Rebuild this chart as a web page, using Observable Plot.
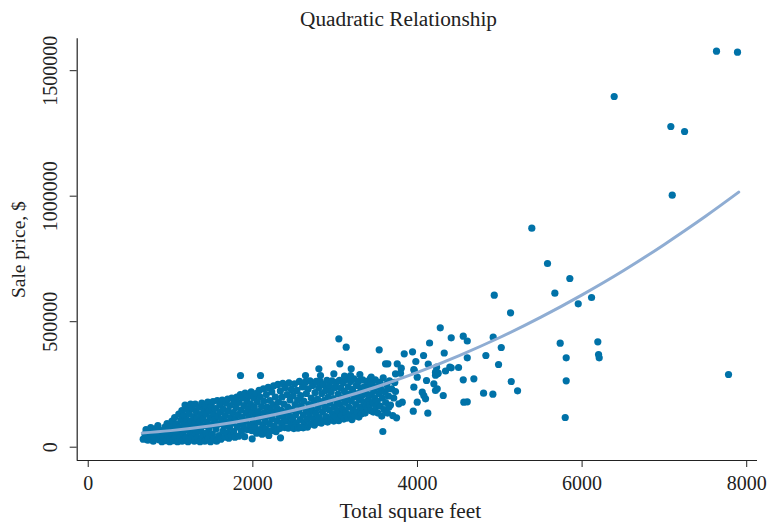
<!DOCTYPE html>
<html><head><meta charset="utf-8">
<script src="https://cdn.jsdelivr.net/npm/d3@7"></script>
<script src="https://cdn.jsdelivr.net/npm/@observablehq/plot@0.6"></script>
<style>
body{margin:0;background:#fff;}
#wrap{width:769px;height:522px;position:relative;overflow:hidden;background:#fff;}
#title{height:34px;box-sizing:border-box;padding-top:4px;padding-left:28px;text-align:center;font-family:"Liberation Serif",serif;font-size:21.3px;line-height:30px;color:#222;}
#chart svg{display:block;}
</style></head><body>
<div id="wrap"><div id="title">Quadratic Relationship</div><div id="chart"></div></div>
<script>
// Tick values
const xTicks = [0, 2000, 4000, 6000, 8000];
const yTicks = [0, 500000, 1000000, 1500000];

// Dense cloud of sales: [total square feet, sale price in $1000]
const cloudPoints = [
  [668,32],[690,52],[702,70],[724,28],[738,45],[752,62],[760,78],[790,24],[805,40],[818,58],[826,74],[846,86],[860,30],[872,48],[884,66],[895,22],[910,40],[925,58],[932,80],[948,26],[958,94],[966,46],[978,68],[990,22],[998,36],[1004,84],[1012,56],[1018,104],
  [1030,26],[1042,72],[1050,118],[1060,44],[1072,92],[1085,22],[1092,60],[1100,132],[1110,80],[1118,38],[1126,108],[1138,146],[1140,24],[1150,56],[1158,90],[1165,126],[1176,168],[1182,70],[1190,40],[1196,110],[1204,150],[1212,22],[1220,88],[1228,134],[1235,60],[1244,172],[1250,104],[1258,38],[1266,154],[1272,76],[1280,120],[1288,24],[1294,96],[1300,172],[1306,56],[1314,140],[1322,114],[1330,36],[1336,80],[1344,160],[1352,100],[1358,22],[1366,130],[1372,62],[1380,176],[1388,40],[1394,112],[1402,150],[1408,86],[1416,24],[1424,166],[1430,132],[1436,56],[1444,100],[1452,180],[1458,36],[1466,74],[1472,146],[1480,118],[1486,22],[1494,164],[1500,90],
  [1508,52],[1516,182],[1524,132],[1530,34],[1538,108],[1546,154],[1552,72],[1560,24],[1568,186],[1576,124],[1584,92],[1590,46],[1598,168],[1606,140],[1612,32],[1620,110],[1628,188],[1636,64],[1642,152],[1650,86],[1656,40],[1664,126],[1672,176],[1680,100],[1686,56],[1694,192],[1700,144],[1708,36],[1716,78],[1722,166],[1730,118],[1738,48],[1744,196],[1752,96],[1760,138],[1766,62],[1774,180],[1782,40],[1788,112],[1796,158],[1804,200],[1810,80],[1818,130],[1826,44],[1832,178],[1840,100],[1848,210],[1856,148],[1862,64],[1870,120],[1878,196],[1884,86],[1892,166],[1900,42],[1906,216],[1914,104],[1920,138],[1928,186],[1934,70],[1942,154],[1950,120],[1956,206],[1964,88],[1972,172],[1980,220],[1988,66],[1994,140],
  [2002,104],[2010,196],[2018,160],[2024,80],[2032,124],[2040,214],[2046,56],[2054,180],[2060,100],[2068,142],[2076,226],[2084,70],[2090,200],[2098,120],[2106,162],[2112,52],[2120,90],[2128,232],[2134,184],[2142,138],[2150,110],[2156,72],[2164,210],[2172,160],[2178,56],[2186,238],[2194,126],[2200,94],[2208,186],[2216,148],[2222,66],[2230,220],[2238,112],[2244,170],[2252,244],[2260,84],[2268,136],[2274,200],[2282,62],[2290,156],[2296,104],[2304,250],[2312,180],[2318,126],[2326,74],[2334,224],[2342,148],[2348,96],[2356,200],[2364,254],[2370,120],[2378,172],[2386,78],[2392,236],[2400,140],[2408,104],[2416,210],[2424,160],[2430,76],[2438,256],[2446,124],[2452,188],[2460,94],[2468,230],[2476,150],[2484,112],[2490,206],[2498,74],
  [2506,252],[2514,170],[2520,130],[2528,96],[2536,226],[2544,188],[2550,76],[2558,146],[2566,262],[2574,110],[2580,206],[2588,166],[2596,80],[2604,240],[2612,128],[2620,184],[2626,98],[2634,258],[2642,150],[2650,214],[2658,112],[2664,80],[2672,232],[2680,170],[2688,134],[2694,264],[2702,92],[2710,196],[2718,150],[2726,246],[2732,114],[2740,176],[2748,88],[2756,218],[2764,136],[2770,262],[2778,98],[2786,192],[2794,158],[2800,236],[2808,118],[2816,262],[2824,176],[2832,96],[2838,214],[2846,140],[2854,250],[2862,104],[2870,188],[2876,160],[2884,226],[2892,122],[2900,266],[2908,100],[2914,200],[2922,150],[2930,244],[2938,176],[2946,114],[2952,220],[2960,264],[2968,134],[2976,194],[2984,104],[2990,160],[2998,238],
  [3006,122],[3014,258],[3022,180],[3030,146],[3036,212],[3044,106],[3052,266],[3060,170],[3068,236],[3074,128],[3082,196],[3090,152],[3098,258],[3106,112],[3112,222],[3120,178],[3128,138],[3136,270],[3144,200],[3150,116],[3158,240],[3166,160],[3174,212],[3182,130],[3188,262],[3196,184],[3204,110],[3212,230],[3220,150],[3228,272],[3234,200],[3242,124],[3250,170],[3258,246],[3266,140],[3272,214],[3280,262],[3288,120],[3296,188],[3304,160],[3310,236],[3318,132],[3326,206],[3334,268],[3342,150],[3350,180],[3356,240],[3364,136],[3372,214],[3380,162],[3388,262],[3394,150],[3402,190],[3410,236],[3418,168],[3426,272],[3432,146],[3440,210],[3448,250],[3456,178],[3464,140],[3472,226],[3480,196],[3488,268],[3494,160],[3502,240],
  [3512,184],[3520,136],[3530,214],[3540,258],[3548,164],[3556,230],[3566,124],[3574,196],[3584,276],[3594,150],[3604,220],[3614,178],[3624,250],[3636,136],[3648,204],[3660,264],[3672,168],[3686,232],[3700,126],[3712,196],[3724,258]
];

// Scattered sales: [total square feet, sale price in $1000]
const scatterPoints = [
  [7633, 1577.7], [7888, 1573.7], [6390, 1397.2], [7078, 1277.7], [7245, 1257.7], [7095, 1004.0],
  [5389, 872.5], [5580, 731.9], [5851, 672.1], [5669, 613.5], [5953, 571.3], [6115, 596.4],
  [4933, 605.6], [5131, 535.4], [4920, 438.2], [5018, 397.2], [4831, 365.3], [4985, 329.5],
  [5139, 261.7], [5216, 224.7], [4803, 215.1], [4916, 211.2], [5734, 414.3], [5807, 356.2],
  [5807, 264.5], [5795, 118.3], [6191, 419.9], [6200, 369.3], [6208, 356.2], [7779, 289.6],
  [4277, 475.7], [4410, 435.8], [4556, 442.2], [4605, 423.1], [4147, 415.1], [3940, 380.1],
  [3839, 372.1], [4074, 365.3], [4325, 375.3], [4605, 356.2], [3980, 341.4], [4131, 330.7],
  [3956, 309.6], [4410, 316.3], [4499, 317.5], [4341, 303.6], [4219, 286.8], [4252, 294.8],
  [4556, 268.5], [4685, 272.5], [3535, 388.0], [3612, 332.3], [3754, 332.3], [3803, 314.7],
  [3961, 305.6], [4232, 318.7], [4240, 292.4], [3733, 292.4], [3997, 278.9], [3956, 239.0],
  [4058, 219.1], [4098, 192.8], [3997, 179.3], [4199, 252.6], [4240, 232.7], [4313, 206.0],
  [3733, 221.9], [3815, 179.3], [3774, 172.9], [3949, 143.4], [4126, 135.5], [3746, 117.1],
  [3579, 62.5], [4605, 180.9], [3045, 431.9], [3134, 398.4], [2640, 285.6], [2802, 312.3],
  [2984, 292.4], [3057, 332.3], [3195, 312.3], [3300, 289.6], [2612, 77.3], [3640, 332.3],
  [3794, 294.8], [3640, 232.7], [3652, 159.4], [4077, 206.0], [4110, 265.7], [4563, 179.3],
  [4393, 318.7], [4219, 298.8], [4219, 225.9], [2093, 285.6], [2822, 285.6], [3114, 282.9],
  [3187, 285.6], [3438, 278.9], [1850, 285.6], [1992, 33.5], [2194, 46.6], [2336, 37.4],
  [2579, 79.7]
];

// Quadratic fit line
const fitSqft = [656, 1000, 1500, 2000, 2500, 3000, 3500, 4000, 4500, 5000, 5500, 6000, 6500, 7000, 7500, 7903];
const fitPrice = [57000, 66000, 85000, 112000, 147000, 190000, 240000, 298000, 364000, 437000, 518000, 607000, 703000, 808000, 920000, 1016000];

const sales = [];
for (const [s, p] of cloudPoints) sales.push({sqft: s, price: p * 1000});
for (const [s, p] of scatterPoints) sales.push({sqft: s, price: p * 1000});
const fit = fitSqft.map((s, i) => ({sqft: s, price: fitPrice[i]}));

const xDomain = [-134, 8131];
const yDomain = [-53000, 1627000];
const ink = "#222";

const chart = Plot.plot({
  width: 769,
  height: 488,
  marginLeft: 76.7,
  marginRight: 12,
  marginTop: 4.3,
  marginBottom: 62,
  x: {domain: xDomain},
  y: {domain: yDomain},
  style: {fontFamily: "'Liberation Serif', serif", fontSize: "20px", color: ink, background: "#fff", overflow: "visible"},
  marks: [
    Plot.dot(sales, {x: "sqft", y: "price", r: 3.6, fill: "#0072a8", stroke: "none"}),
    Plot.line(fit, {x: "sqft", y: "price", stroke: "#8fadd3", strokeWidth: 3, curve: "natural"}),
    Plot.ruleX([xDomain[0]], {stroke: ink, strokeWidth: 1.2}),
    Plot.ruleY([yDomain[0]], {stroke: ink, strokeWidth: 1.2}),
    Plot.axisX(xTicks, {tickSize: 7, tickPadding: 8, tickFormat: d => String(d), fontSize: 20, label: null, stroke: ink}),
    Plot.axisY(yTicks, {tickSize: 7, tickPadding: 12.7, tickRotate: -90, tickFormat: d => String(d), fontSize: 20, label: null, stroke: ink}),
    Plot.text(["Total square feet"], {frameAnchor: "bottom", dy: 57, dx: -7, lineAnchor: "bottom", textAnchor: "middle", fontSize: 21.3, fill: ink}),
    Plot.text(["Sale price, $"], {frameAnchor: "left", dx: -58, rotate: -90, lineAnchor: "middle", textAnchor: "middle", fontSize: 19.5, fill: ink})
  ]
});
document.getElementById("chart").appendChild(chart);
</script></body></html>
